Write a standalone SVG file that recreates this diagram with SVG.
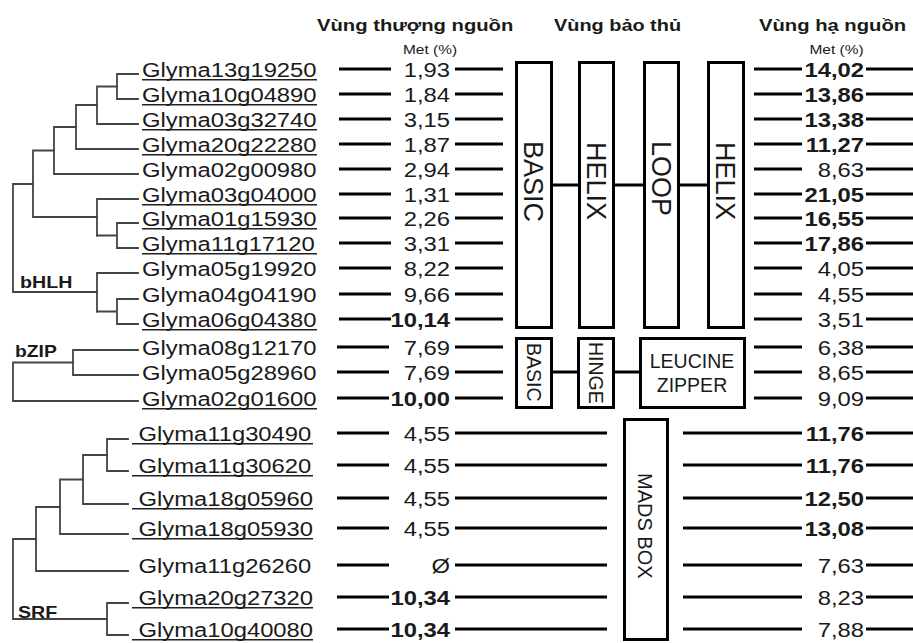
<svg xmlns="http://www.w3.org/2000/svg" width="913" height="643" viewBox="0 0 913 643">
<style>
text{font-family:"Liberation Sans",Arial,Helvetica,sans-serif;fill:#1a1a1a}
.h{font-size:17px;font-weight:bold}
.met{font-size:13px;text-anchor:middle}
.nm{font-size:20px}
.v{font-size:20px;text-anchor:end}
.b{font-weight:bold}
.g{font-size:16.5px;font-weight:bold}
.rot{font-size:27px}
.rs{font-size:19.5px}
.lz{font-size:19.5px;text-anchor:middle}
.mads{font-size:20px}
.bar{stroke:#000;stroke-width:3.2;fill:none}
.box{fill:#fff;stroke:#000;stroke-width:3}
.tree{stroke:#444;stroke-width:1.8;fill:none;stroke-linecap:square}
.ul{stroke:#222;stroke-width:1.4}
</style>
<rect width="913" height="643" fill="#fff"/>

<g id="headers">
<text class="h" transform="translate(317 31) scale(1.19 1)">Vùng thượng nguồn</text>
<text class="h" transform="translate(554 31) scale(1.17 1)">Vùng bảo thủ</text>
<text class="h" transform="translate(759 31) scale(1.19 1)">Vùng hạ nguồn</text>
<text class="met" transform="translate(430 54) scale(1.19 1)">Met (%)</text>
<text class="met" transform="translate(836.5 54) scale(1.19 1)">Met (%)</text>
</g>

<g id="group-labels">
<text class="g" transform="translate(20 288) scale(1.19 1)">bHLH</text>
<text class="g" transform="translate(15 357) scale(1.17 1)">bZIP</text>
<text class="g" transform="translate(18 618) scale(1.19 1)">SRF</text>
</g>

<g id="connectors">
<g id="tree" class="tree">
<!-- bHLH -->
<path d="M117 74V99M117 74H138M117 99H138"/>
<path d="M97 86.5V124M97 86.5H117M97 124H138"/>
<path d="M76 105V149M76 105H97M76 149H138"/>
<path d="M54 127V174M54 127H76M54 174H138"/>
<path d="M33 150.5V217M33 150.5H54M33 217H97"/>
<path d="M97 199V235.5M97 199H138"/>
<path d="M117 223V248M97 235.5H117M117 223H138M117 248H138"/>
<path d="M97 273V311.5M97 273H138"/>
<path d="M117 299V324M97 311.5H117M117 299H138M117 324H138"/>
<path d="M13 184V292M13 184H33M13 292H97"/>
<!-- bZIP -->
<path d="M73 350V375M73 350H138M73 375H138"/>
<path d="M13 362.5V401M13 362.5H73M13 401H138"/>
<!-- SRF -->
<path d="M107 439V471M107 439H128M107 471H128"/>
<path d="M83 455V504M83 455H107M83 504H128"/>
<path d="M60 479.5V534M60 479.5H83M60 534H128"/>
<path d="M36 507V571M36 507H60M36 571H128"/>
<path d="M107 603V635M107 603H128M107 635H128"/>
<path d="M13 539V619M13 539H36M13 619H107"/>
</g>
<g id="bars" class="bar">
<path d="M339 69H391M455 69H503M754 69H802M866 69H913"/>
<path d="M339 94H391M455 94H503M754 94H802M866 94H913"/>
<path d="M339 119H391M455 119H503M754 119H802M866 119H913"/>
<path d="M339 144H391M455 144H503M754 144H802M866 144H913"/>
<path d="M339 169H391M455 169H503M754 169H802M866 169H913"/>
<path d="M339 194H391M455 194H503M754 194H802M866 194H913"/>
<path d="M339 218H391M455 218H503M754 218H802M866 218H913"/>
<path d="M339 243H391M455 243H503M754 243H802M866 243H913"/>
<path d="M339 268H391M455 268H503M754 268H802M866 268H913"/>
<path d="M339 294H391M455 294H503M754 294H802M866 294H913"/>
<path d="M339 319H391M455 319H503M754 319H802M866 319H913"/>
<path d="M337 347H389M455 347H503M754 347H802M866 347H913"/>
<path d="M337 372H389M455 372H503M754 372H802M866 372H913"/>
<path d="M337 398H389M455 398H503M754 398H802M866 398H913"/>
<path d="M337 433H389M455 433H607M683 433H802M866 433H913"/>
<path d="M337 465H389M455 465H607M683 465H802M866 465H913"/>
<path d="M337 498H389M455 498H607M683 498H802M866 498H913"/>
<path d="M337 528H389M455 528H607M683 528H802M866 528H913"/>
<path d="M337 565H389M455 565H607M683 565H802M866 565H913"/>
<path d="M337 597H389M455 597H607M683 597H802M866 597H913"/>
<path d="M337 629H389M455 629H607M683 629H802M866 629H913"/>
<!-- domain links -->
<path d="M553 185H578M615 185H643M680 185H707"/>
<path d="M553 372H577M615 372H639"/>
</g>
</g>

<g id="box-basic"><rect class="box" x="516.5" y="62.5" width="35" height="265"/><text class="rot" transform="translate(524 141) rotate(90)">BASIC</text></g>
<g id="box-helix1"><rect class="box" x="579.5" y="62.5" width="34" height="265"/><text class="rot" transform="translate(587 142) rotate(90)">HELIX</text></g>
<g id="box-loop"><rect class="box" x="644.5" y="62.5" width="34" height="265"/><text class="rot" transform="translate(652 141) rotate(90)">LOOP</text></g>
<g id="box-helix2"><rect class="box" x="708.5" y="62.5" width="35" height="265"/><text class="rot" transform="translate(716 142) rotate(90)">HELIX</text></g>
<g id="box-basic-zip"><rect class="box" x="516.5" y="338.5" width="35" height="69"/><text class="rs" transform="translate(527 343) rotate(90)">BASIC</text></g>
<g id="box-hinge"><rect class="box" x="578.5" y="338.5" width="35" height="69"/><text class="rs" transform="translate(589 342) rotate(90)">HINGE</text></g>
<g id="box-leucine"><rect class="box" x="640.5" y="338.5" width="104" height="69"/><text class="lz" x="692" y="367.5">LEUCINE</text><text class="lz" x="692" y="391.5">ZIPPER</text></g>
<g id="box-mads"><rect class="box" x="624.5" y="419.5" width="43" height="220"/><text class="mads" transform="translate(638 473) rotate(90)">MADS BOX</text></g>

<g id="underlines" class="ul">
<path d="M142 79.7H317M142 104.7H317M142 129.7H317M142 154.7H317M142 204.7H317M142 228.7H317M142 253.7H317M142 329.7H317M142 408.7H317"/>
<path d="M132 443.7H313M132 475.7H313M132 508.7H313M132 538.7H313M132 607.7H313M132 639.7H313"/>
</g>

<g id="row-Glyma13g19250"><text class="nm" transform="translate(142 77) scale(1.19 1)">Glyma13g19250</text><text class="v" transform="translate(450 77) scale(1.19 1)">1,93</text><text class="v b" transform="translate(864 77) scale(1.19 1)">14,02</text></g>
<g id="row-Glyma10g04890"><text class="nm" transform="translate(142 102) scale(1.19 1)">Glyma10g04890</text><text class="v" transform="translate(450 102) scale(1.19 1)">1,84</text><text class="v b" transform="translate(864 102) scale(1.19 1)">13,86</text></g>
<g id="row-Glyma03g32740"><text class="nm" transform="translate(142 127) scale(1.19 1)">Glyma03g32740</text><text class="v" transform="translate(450 127) scale(1.19 1)">3,15</text><text class="v b" transform="translate(864 127) scale(1.19 1)">13,38</text></g>
<g id="row-Glyma20g22280"><text class="nm" transform="translate(142 152) scale(1.19 1)">Glyma20g22280</text><text class="v" transform="translate(450 152) scale(1.19 1)">1,87</text><text class="v b" transform="translate(864 152) scale(1.19 1)">11,27</text></g>
<g id="row-Glyma02g00980"><text class="nm" transform="translate(142 177) scale(1.19 1)">Glyma02g00980</text><text class="v" transform="translate(450 177) scale(1.19 1)">2,94</text><text class="v" transform="translate(864 177) scale(1.19 1)">8,63</text></g>
<g id="row-Glyma03g04000"><text class="nm" transform="translate(142 202) scale(1.19 1)">Glyma03g04000</text><text class="v" transform="translate(450 202) scale(1.19 1)">1,31</text><text class="v b" transform="translate(864 202) scale(1.19 1)">21,05</text></g>
<g id="row-Glyma01g15930"><text class="nm" transform="translate(142 226) scale(1.19 1)">Glyma01g15930</text><text class="v" transform="translate(450 226) scale(1.19 1)">2,26</text><text class="v b" transform="translate(864 226) scale(1.19 1)">16,55</text></g>
<g id="row-Glyma11g17120"><text class="nm" transform="translate(142 251) scale(1.19 1)">Glyma11g17120</text><text class="v" transform="translate(450 251) scale(1.19 1)">3,31</text><text class="v b" transform="translate(864 251) scale(1.19 1)">17,86</text></g>
<g id="row-Glyma05g19920"><text class="nm" transform="translate(142 276) scale(1.19 1)">Glyma05g19920</text><text class="v" transform="translate(450 276) scale(1.19 1)">8,22</text><text class="v" transform="translate(864 276) scale(1.19 1)">4,05</text></g>
<g id="row-Glyma04g04190"><text class="nm" transform="translate(142 302) scale(1.19 1)">Glyma04g04190</text><text class="v" transform="translate(450 302) scale(1.19 1)">9,66</text><text class="v" transform="translate(864 302) scale(1.19 1)">4,55</text></g>
<g id="row-Glyma06g04380"><text class="nm" transform="translate(142 327) scale(1.19 1)">Glyma06g04380</text><text class="v b" transform="translate(450 327) scale(1.19 1)">10,14</text><text class="v" transform="translate(864 327) scale(1.19 1)">3,51</text></g>
<g id="row-Glyma08g12170"><text class="nm" transform="translate(142 355) scale(1.19 1)">Glyma08g12170</text><text class="v" transform="translate(450 355) scale(1.19 1)">7,69</text><text class="v" transform="translate(864 355) scale(1.19 1)">6,38</text></g>
<g id="row-Glyma05g28960"><text class="nm" transform="translate(142 380) scale(1.19 1)">Glyma05g28960</text><text class="v" transform="translate(450 380) scale(1.19 1)">7,69</text><text class="v" transform="translate(864 380) scale(1.19 1)">8,65</text></g>
<g id="row-Glyma02g01600"><text class="nm" transform="translate(142 406) scale(1.19 1)">Glyma02g01600</text><text class="v b" transform="translate(450 406) scale(1.19 1)">10,00</text><text class="v" transform="translate(864 406) scale(1.19 1)">9,09</text></g>
<g id="row-Glyma11g30490"><text class="nm" transform="translate(138.5 441) scale(1.19 1)">Glyma11g30490</text><text class="v" transform="translate(450 441) scale(1.19 1)">4,55</text><text class="v b" transform="translate(864 441) scale(1.19 1)">11,76</text></g>
<g id="row-Glyma11g30620"><text class="nm" transform="translate(138.5 473) scale(1.19 1)">Glyma11g30620</text><text class="v" transform="translate(450 473) scale(1.19 1)">4,55</text><text class="v b" transform="translate(864 473) scale(1.19 1)">11,76</text></g>
<g id="row-Glyma18g05960"><text class="nm" transform="translate(138.5 506) scale(1.19 1)">Glyma18g05960</text><text class="v" transform="translate(450 506) scale(1.19 1)">4,55</text><text class="v b" transform="translate(864 506) scale(1.19 1)">12,50</text></g>
<g id="row-Glyma18g05930"><text class="nm" transform="translate(138.5 536) scale(1.19 1)">Glyma18g05930</text><text class="v" transform="translate(450 536) scale(1.19 1)">4,55</text><text class="v b" transform="translate(864 536) scale(1.19 1)">13,08</text></g>
<g id="row-Glyma11g26260"><text class="nm" transform="translate(138.5 573) scale(1.19 1)">Glyma11g26260</text><text class="v" transform="translate(450 573) scale(1.19 1)">Ø</text><text class="v" transform="translate(864 573) scale(1.19 1)">7,63</text></g>
<g id="row-Glyma20g27320"><text class="nm" transform="translate(138.5 605) scale(1.19 1)">Glyma20g27320</text><text class="v b" transform="translate(450 605) scale(1.19 1)">10,34</text><text class="v" transform="translate(864 605) scale(1.19 1)">8,23</text></g>
<g id="row-Glyma10g40080"><text class="nm" transform="translate(138.5 637) scale(1.19 1)">Glyma10g40080</text><text class="v b" transform="translate(450 637) scale(1.19 1)">10,34</text><text class="v" transform="translate(864 637) scale(1.19 1)">7,88</text></g>
</svg>
